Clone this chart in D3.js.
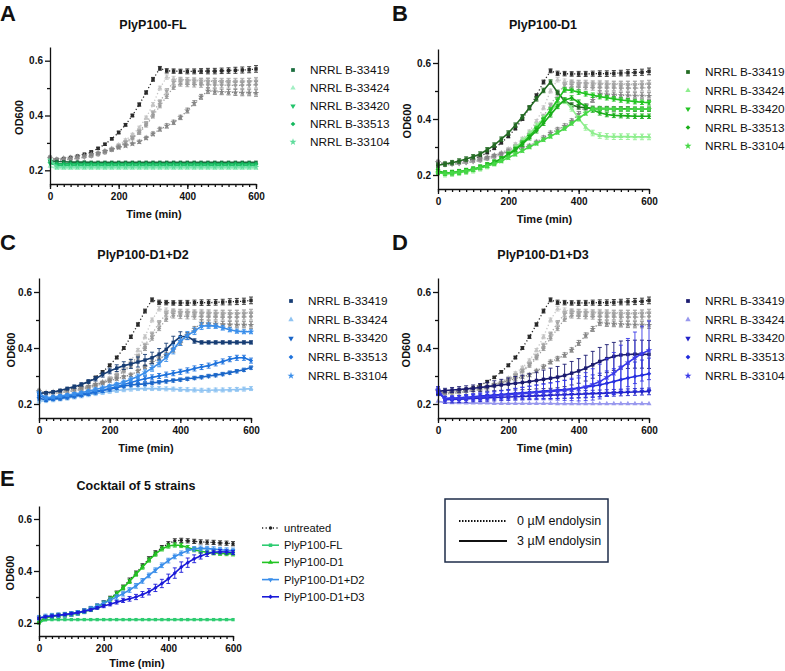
<!DOCTYPE html>
<html>
<head>
<meta charset="utf-8">
<script src="https://cdn.jsdelivr.net/npm/d3@7"></script>
<style>
body{margin:0;background:#fff;}
svg{font-family:Arial, "Liberation Sans", sans-serif;}
</style>
</head>
<body>
<div class="container"></div>
<script>
(function(){

// ---- data ----
var times = [0,20,40,60,80,100,120,140,160,180,200,220,240,260,280,300,320,340,360,380,400,420,440,460,480,500,520,540,560,580,600];
var strains = ["NRRL B-33419", "NRRL B-33424", "NRRL B-33420", "NRRL B-33513", "NRRL B-33104"];
var cocktailNames = ["untreated", "PlyP100-FL", "PlyP100-D1", "PlyP100-D1+D2", "PlyP100-D1+D3"];
var yTicks = [0.2, 0.4, 0.6];
var yMinorTicks = [0.3, 0.5];
var xTicks = [0, 200, 400, 600];

// untreated controls (0 uM), same in panels A-D
var untreated_33419 = [0.237,0.240,0.243,0.247,0.252,0.259,0.267,0.280,0.295,0.315,0.338,0.366,0.400,0.440,0.484,0.532,0.572,0.563,0.562,0.561,0.561,0.561,0.562,0.562,0.562,0.563,0.564,0.565,0.566,0.567,0.570];
var untreated_33424 = [0.250,0.238,0.240,0.243,0.246,0.250,0.255,0.262,0.270,0.280,0.293,0.310,0.330,0.355,0.392,0.440,0.500,0.540,0.535,0.532,0.530,0.530,0.528,0.528,0.527,0.526,0.526,0.525,0.525,0.526,0.527];
var untreated_33420 = [0.245,0.236,0.238,0.241,0.244,0.248,0.253,0.259,0.267,0.277,0.289,0.303,0.320,0.342,0.372,0.410,0.450,0.490,0.522,0.530,0.528,0.527,0.526,0.525,0.525,0.524,0.524,0.523,0.523,0.524,0.525];
var untreated_33513 = [0.248,0.236,0.238,0.240,0.243,0.247,0.251,0.257,0.264,0.273,0.285,0.299,0.316,0.337,0.364,0.398,0.435,0.470,0.503,0.515,0.514,0.513,0.512,0.512,0.511,0.511,0.510,0.510,0.510,0.511,0.512];
var untreated_33104 = [0.245,0.240,0.243,0.246,0.250,0.254,0.258,0.263,0.270,0.276,0.283,0.290,0.297,0.304,0.318,0.333,0.350,0.362,0.375,0.393,0.418,0.445,0.468,0.490,0.487,0.486,0.485,0.484,0.483,0.483,0.482];
var sd_untreated = [0.004,0.003,0.003,0.003,0.003,0.003,0.004,0.004,0.004,0.004,0.005,0.005,0.005,0.006,0.006,0.007,0.007,0.008,0.008,0.008,0.009,0.009,0.009,0.010,0.010,0.010,0.010,0.011,0.011,0.011,0.012];

// A: PlyP100-FL
var fl_33419 = [0.235,0.232,0.231,0.230,0.230,0.230,0.229,0.229,0.229,0.229,0.229,0.229,0.229,0.229,0.229,0.229,0.229,0.229,0.229,0.229,0.229,0.229,0.229,0.229,0.229,0.229,0.229,0.229,0.229,0.229,0.229];
var fl_33424 = [0.215,0.206,0.206,0.206,0.206,0.206,0.206,0.206,0.206,0.206,0.206,0.206,0.206,0.206,0.206,0.206,0.206,0.206,0.206,0.206,0.206,0.206,0.206,0.206,0.206,0.206,0.206,0.206,0.206,0.206,0.206];
var fl_33420 = [0.225,0.219,0.219,0.219,0.219,0.219,0.219,0.219,0.219,0.219,0.219,0.219,0.219,0.219,0.219,0.219,0.219,0.219,0.219,0.219,0.219,0.219,0.219,0.219,0.219,0.219,0.219,0.219,0.219,0.219,0.219];
var fl_33513 = [0.230,0.224,0.224,0.224,0.224,0.224,0.224,0.224,0.224,0.224,0.224,0.224,0.224,0.224,0.224,0.224,0.224,0.224,0.224,0.224,0.224,0.224,0.224,0.224,0.224,0.224,0.224,0.224,0.224,0.224,0.224];
var fl_33104 = [0.238,0.212,0.212,0.212,0.212,0.212,0.212,0.212,0.212,0.212,0.212,0.212,0.212,0.212,0.212,0.212,0.212,0.212,0.212,0.212,0.212,0.212,0.212,0.212,0.212,0.212,0.212,0.212,0.212,0.212,0.212];

// B: PlyP100-D1
var d1_33419 = [0.235,0.239,0.244,0.250,0.257,0.265,0.275,0.290,0.307,0.328,0.350,0.378,0.408,0.440,0.472,0.502,0.532,0.495,0.465,0.450,0.443,0.440,0.438,0.437,0.437,0.436,0.436,0.436,0.435,0.435,0.435];
var d1_33424 = [0.210,0.203,0.205,0.208,0.212,0.217,0.224,0.232,0.242,0.255,0.275,0.297,0.322,0.347,0.375,0.402,0.430,0.452,0.465,0.438,0.402,0.370,0.350,0.341,0.338,0.337,0.337,0.337,0.336,0.336,0.336];
var d1_33420 = [0.215,0.207,0.209,0.212,0.216,0.221,0.228,0.236,0.246,0.258,0.274,0.292,0.314,0.338,0.366,0.398,0.432,0.468,0.505,0.502,0.496,0.490,0.485,0.480,0.476,0.472,0.468,0.465,0.462,0.460,0.458];
var d1_33513 = [0.212,0.206,0.208,0.211,0.215,0.220,0.227,0.235,0.245,0.257,0.272,0.290,0.310,0.333,0.358,0.385,0.415,0.445,0.468,0.475,0.460,0.445,0.432,0.422,0.416,0.413,0.412,0.411,0.410,0.410,0.410];
var d1_33104 = [0.208,0.205,0.207,0.210,0.214,0.219,0.225,0.232,0.240,0.250,0.262,0.274,0.287,0.300,0.313,0.326,0.338,0.352,0.366,0.384,0.402,0.420,0.436,0.437,0.436,0.436,0.435,0.435,0.435,0.435,0.435];

// C: PlyP100-D1+D2
var d1d2_33419 = [0.238,0.240,0.243,0.248,0.255,0.262,0.270,0.280,0.290,0.305,0.318,0.328,0.337,0.343,0.350,0.357,0.365,0.378,0.395,0.420,0.440,0.442,0.425,0.420,0.420,0.420,0.420,0.420,0.420,0.420,0.420];
var d1d2_33424 = [0.210,0.212,0.215,0.218,0.221,0.225,0.229,0.233,0.237,0.241,0.245,0.248,0.251,0.253,0.255,0.255,0.255,0.255,0.254,0.253,0.252,0.251,0.250,0.249,0.249,0.250,0.250,0.251,0.252,0.253,0.255];
var d1d2_33420 = [0.220,0.215,0.218,0.220,0.224,0.228,0.232,0.237,0.242,0.248,0.253,0.258,0.264,0.268,0.270,0.272,0.275,0.278,0.281,0.284,0.287,0.290,0.293,0.296,0.300,0.303,0.307,0.312,0.317,0.322,0.330];
var d1d2_33513 = [0.230,0.220,0.222,0.225,0.228,0.232,0.236,0.240,0.245,0.250,0.255,0.262,0.270,0.277,0.284,0.290,0.295,0.300,0.305,0.310,0.315,0.320,0.327,0.332,0.337,0.345,0.352,0.360,0.365,0.365,0.355];
var d1d2_33104 = [0.240,0.222,0.225,0.228,0.232,0.236,0.240,0.246,0.252,0.258,0.264,0.270,0.278,0.288,0.298,0.312,0.328,0.345,0.366,0.395,0.425,0.445,0.460,0.478,0.480,0.478,0.472,0.465,0.460,0.458,0.458];
var sd_d1d2_33419 = [0.004,0.004,0.004,0.005,0.005,0.006,0.006,0.007,0.008,0.009,0.010,0.012,0.014,0.016,0.018,0.020,0.020,0.020,0.022,0.022,0.018,0.012,0.008,0.006,0.006,0.006,0.006,0.006,0.006,0.006,0.006];
var sd_d1d2_33104 = [0.006,0.004,0.004,0.004,0.004,0.005,0.005,0.005,0.006,0.006,0.006,0.007,0.007,0.008,0.009,0.010,0.011,0.012,0.014,0.016,0.016,0.014,0.012,0.012,0.010,0.008,0.008,0.007,0.007,0.007,0.007];

// D: PlyP100-D1+D3
var d1d3_33419 = [0.245,0.248,0.250,0.252,0.254,0.256,0.259,0.262,0.265,0.268,0.271,0.274,0.277,0.280,0.284,0.288,0.292,0.296,0.302,0.310,0.318,0.328,0.340,0.352,0.362,0.370,0.375,0.377,0.378,0.378,0.377];
var d1d3_33424 = [0.210,0.205,0.204,0.204,0.203,0.203,0.203,0.203,0.202,0.202,0.202,0.202,0.202,0.202,0.202,0.202,0.202,0.201,0.201,0.201,0.201,0.201,0.201,0.201,0.201,0.201,0.201,0.201,0.201,0.201,0.201];
var d1d3_33420 = [0.250,0.215,0.216,0.217,0.218,0.220,0.221,0.222,0.223,0.224,0.225,0.226,0.227,0.228,0.229,0.230,0.231,0.232,0.233,0.234,0.235,0.236,0.237,0.238,0.239,0.240,0.241,0.242,0.243,0.244,0.245];
var d1d3_33513 = [0.240,0.220,0.221,0.222,0.224,0.226,0.228,0.230,0.232,0.234,0.236,0.238,0.240,0.242,0.244,0.246,0.248,0.250,0.252,0.254,0.257,0.260,0.264,0.268,0.274,0.280,0.287,0.293,0.298,0.303,0.308];
var d1d3_33104 = [0.250,0.218,0.219,0.220,0.222,0.223,0.225,0.227,0.229,0.231,0.233,0.235,0.237,0.239,0.241,0.243,0.245,0.247,0.249,0.252,0.256,0.262,0.270,0.280,0.295,0.310,0.330,0.348,0.365,0.380,0.392];
var sd_d1d3_33419 = [0.008,0.008,0.009,0.010,0.011,0.012,0.014,0.016,0.018,0.020,0.022,0.024,0.026,0.028,0.030,0.033,0.036,0.038,0.040,0.042,0.044,0.046,0.048,0.050,0.050,0.050,0.050,0.050,0.050,0.050,0.050];
var sd_d1d3_33513 = [0.010,0.008,0.008,0.009,0.010,0.011,0.012,0.013,0.014,0.015,0.016,0.018,0.020,0.022,0.024,0.026,0.028,0.030,0.032,0.034,0.036,0.038,0.040,0.042,0.044,0.046,0.048,0.050,0.052,0.054,0.056];
var sd_d1d3_33104 = [0.010,0.008,0.008,0.009,0.010,0.011,0.012,0.013,0.014,0.016,0.018,0.020,0.022,0.024,0.026,0.028,0.030,0.033,0.036,0.040,0.045,0.050,0.056,0.062,0.068,0.074,0.080,0.086,0.092,0.098,0.105];

// E: cocktail of 5 strains
var mix_untreated = [0.215,0.222,0.226,0.229,0.232,0.235,0.240,0.247,0.255,0.265,0.278,0.295,0.315,0.338,0.365,0.392,0.420,0.447,0.470,0.490,0.505,0.516,0.518,0.516,0.514,0.512,0.511,0.510,0.508,0.507,0.505];
var mix_fl = [0.200,0.212,0.213,0.213,0.213,0.213,0.213,0.213,0.213,0.213,0.213,0.213,0.213,0.213,0.213,0.213,0.213,0.213,0.213,0.213,0.213,0.213,0.213,0.213,0.213,0.213,0.213,0.213,0.213,0.213,0.213];
var mix_d1 = [0.205,0.220,0.225,0.228,0.231,0.234,0.238,0.244,0.252,0.262,0.275,0.292,0.312,0.335,0.360,0.388,0.415,0.442,0.465,0.485,0.496,0.500,0.498,0.490,0.482,0.476,0.472,0.470,0.468,0.467,0.466];
var mix_d1d2 = [0.220,0.225,0.228,0.230,0.232,0.235,0.239,0.246,0.255,0.265,0.276,0.288,0.300,0.313,0.327,0.343,0.362,0.383,0.403,0.422,0.440,0.456,0.468,0.478,0.485,0.487,0.486,0.484,0.482,0.480,0.479];
var mix_d1d3 = [0.218,0.224,0.227,0.230,0.233,0.236,0.240,0.245,0.251,0.258,0.265,0.272,0.280,0.287,0.293,0.300,0.310,0.320,0.335,0.352,0.370,0.392,0.415,0.432,0.447,0.458,0.466,0.472,0.474,0.473,0.471];
var sd_mix_d1d3 = [0.004,0.004,0.004,0.004,0.004,0.004,0.004,0.005,0.005,0.005,0.006,0.006,0.007,0.008,0.009,0.010,0.011,0.012,0.014,0.016,0.018,0.020,0.020,0.018,0.015,0.012,0.010,0.008,0.008,0.008,0.008];

// ---- styles ----
var shapes = ["square", "triangle", "triangleDown", "diamond", "star"];
var greyColors = ["#2a2a2a", "#c4c4c4", "#a6a6a6", "#9c9c9c", "#858585"];
var flColors = ["#1b6e3f", "#a3efc4", "#22c46b", "#14b85e", "#5fdc9c"];
var d1Colors = ["#236b23", "#8eee8e", "#22c422", "#1aae1a", "#46d846"];
var d1d2Colors = ["#173d74", "#90c4f2", "#1a66c8", "#1e72dc", "#3a8eea"];
var d1d3Colors = ["#1b1b70", "#9898ee", "#2222c8", "#1f2adc", "#3a3ae8"];
var mixColors = ["#222222", "#2ecc71", "#22c422", "#3a8eea", "#1a1ad8"];

var untreatedSeries = [
  {v: untreated_33419, sd: sd_untreated},
  {v: untreated_33424, sd: sd_untreated},
  {v: untreated_33420, sd: sd_untreated},
  {v: untreated_33513, sd: sd_untreated},
  {v: untreated_33104, sd: sd_untreated}
];

var panels = [
  {letter: "A", lx: 0, ly: 21, title: "PlyP100-FL", tx: 153, ty: 29,
   xr: [50, 256], yr: [184, 47], odx: 19,
   series: [{v: fl_33419, sd: 0.003}, {v: fl_33424, sd: 0.003}, {v: fl_33420, sd: 0.003}, {v: fl_33513, sd: 0.003}, {v: fl_33104, sd: 0.003}],
   colors: flColors, leg: {x: 293, y: 70, dy: 18}},
  {letter: "B", lx: 392, ly: 21, title: "PlyP100-D1", tx: 543, ty: 29,
   xr: [438, 649], yr: [189, 49], odx: 407,
   series: [{v: d1_33419, sd: 0.008}, {v: d1_33424, sd: 0.010}, {v: d1_33420, sd: 0.008}, {v: d1_33513, sd: 0.008}, {v: d1_33104, sd: 0.006}],
   colors: d1Colors, leg: {x: 688, y: 72, dy: 18.5}},
  {letter: "C", lx: 0, ly: 250, title: "PlyP100-D1+D2", tx: 143, ty: 259,
   xr: [39, 251], yr: [418, 278], odx: 11,
   series: [{v: d1d2_33419, sd: sd_d1d2_33419}, {v: d1d2_33424, sd: 0.007}, {v: d1d2_33420, sd: 0.006}, {v: d1d2_33513, sd: 0.009}, {v: d1d2_33104, sd: sd_d1d2_33104}],
   colors: d1d2Colors, leg: {x: 291, y: 301, dy: 18.7}},
  {letter: "D", lx: 392, ly: 250, title: "PlyP100-D1+D3", tx: 543, ty: 259,
   xr: [438, 649], yr: [418, 278], odx: 406,
   series: [{v: d1d3_33419, sd: sd_d1d3_33419}, {v: d1d3_33424, sd: 0.003}, {v: d1d3_33420, sd: 0.012}, {v: d1d3_33513, sd: sd_d1d3_33513}, {v: d1d3_33104, sd: sd_d1d3_33104}],
   colors: d1d3Colors, leg: {x: 688, y: 301, dy: 18.7}}
];

var svg = d3.select(".container")
  .append("svg")
  .attr("width", 785)
  .attr("height", 671);

svg.append("rect")
  .attr("width", 785)
  .attr("height", 671)
  .attr("fill", "#fff");

function symbolPath(shape, size){
  if (shape == "square") return d3.symbol(d3.symbolSquare, size)();
  if (shape == "triangle" || shape == "triangleDown") return d3.symbol(d3.symbolTriangle, size * 0.9)();
  if (shape == "diamond") return d3.symbol(d3.symbolSquare, size * 0.8)();
  if (shape == "star") return d3.symbol(d3.symbolStar, size * 1.1)();
  return d3.symbol(d3.symbolCircle, size)();
}
function symbolRot(shape){
  if (shape == "triangleDown") return " rotate(180)";
  if (shape == "diamond") return " rotate(45)";
  return "";
}

function sdAt(sd, i){
  return (typeof sd == "number") ? sd : sd[i];
}

function drawAxes(g, x, y){
  var xAxis = g.append("g")
    .attr("transform", "translate(0," + y.range()[0] + ")")
    .call(d3.axisBottom(x).tickValues(xTicks).tickSize(5).tickSizeOuter(0).tickPadding(4).tickFormat(d3.format("d")));
  var xMinor = g.append("g")
    .attr("transform", "translate(0," + y.range()[0] + ")")
    .call(d3.axisBottom(x).tickValues(times).tickSize(3).tickSizeOuter(0).tickFormat(""));
  xMinor.select(".domain").remove();

  var yAxis = g.append("g")
    .attr("transform", "translate(" + x.range()[0] + ",0)")
    .call(d3.axisLeft(y).tickValues(yTicks).tickSize(5).tickSizeOuter(0).tickPadding(2).tickFormat(d3.format(".1f")));
  var yMinor = g.append("g")
    .attr("transform", "translate(" + x.range()[0] + ",0)")
    .call(d3.axisLeft(y).tickValues(yMinorTicks).tickSize(3).tickSizeOuter(0).tickFormat(""));
  yMinor.select(".domain").remove();

  g.selectAll(".domain, .tick line")
    .attr("stroke", "#111")
    .attr("stroke-width", 1.3);
  g.selectAll(".tick text")
    .attr("fill", "#111")
    .style("font-size", "10px")
    .style("font-weight", "bold")
    .style("font-family", "Arial, 'Liberation Sans', sans-serif");
}

function drawSeries(g, x, y, s, color, shape, dotted, msize){
  var pts = times.map(function(t, i){ return {t: t, v: s.v[i], e: sdAt(s.sd, i)}; });

  var bars = g.append("g");
  pts.forEach(function(p){
    var y1 = y(p.v - p.e), y2 = y(p.v + p.e);
    if (Math.abs(y1 - y2) < 2) return;
    bars.append("line").attr("x1", x(p.t)).attr("x2", x(p.t)).attr("y1", y1).attr("y2", y2)
      .attr("stroke", color).attr("stroke-width", 0.9);
    [y1, y2].forEach(function(yy){
      bars.append("line").attr("x1", x(p.t) - 2).attr("x2", x(p.t) + 2).attr("y1", yy).attr("y2", yy)
        .attr("stroke", color).attr("stroke-width", 0.9);
    });
  });

  var line = d3.line()
    .x(function(d){ return x(d.t); })
    .y(function(d){ return y(d.v); });

  g.append("path")
    .datum(pts)
    .attr("d", line)
    .attr("fill", "none")
    .attr("stroke", color)
    .attr("stroke-width", dotted ? 1.3 : 1.6)
    .attr("stroke-dasharray", dotted ? "1.2,2.4" : null);

  g.selectAll(null)
    .data(pts)
    .enter()
    .append("path")
    .attr("d", symbolPath(shape, msize))
    .attr("transform", function(d){ return "translate(" + x(d.t) + "," + y(d.v) + ")" + symbolRot(shape); })
    .attr("fill", color);
}

function textAt(x, y, str, size, weight, anchor){
  return svg.append("text")
    .attr("x", x).attr("y", y)
    .attr("text-anchor", anchor || "start")
    .style("font-size", size + "px")
    .style("font-weight", weight || "normal")
    .attr("fill", "#111")
    .text(str);
}

function drawPanel(p){
  var x = d3.scaleLinear().domain([0, 600]).range(p.xr);
  var y = d3.scaleLinear().domain([0.15, 0.65]).range(p.yr);
  var g = svg.append("g");

  // untreated controls behind, treated in front
  untreatedSeries.forEach(function(s, i){
    drawSeries(g, x, y, s, greyColors[i], shapes[i], true, 12);
  });
  p.series.forEach(function(s, i){
    drawSeries(g, x, y, s, p.colors[i], shapes[i], false, 12);
  });

  drawAxes(g, x, y);

  textAt(p.lx, p.ly, p.letter, 22, "bold");
  textAt(p.tx, p.ty, p.title, 12.5, "bold", "middle");
  textAt((p.xr[0] + p.xr[1]) / 2 + 1, p.yr[0] + 34, "Time (min)", 11, "bold", "middle");
  textAt(0, 0, "OD600", 11, "bold", "middle")
    .attr("transform", "translate(" + (p.odx + 4) + "," + ((p.yr[0] + p.yr[1]) / 2 + 2) + ") rotate(-90)");

  // legend
  strains.forEach(function(name, i){
    var ly = p.leg.y + i * p.leg.dy;
    svg.append("path")
      .attr("d", symbolPath(shapes[i], 14))
      .attr("transform", "translate(" + p.leg.x + "," + ly + ")" + symbolRot(shapes[i]))
      .attr("fill", p.colors[i]);
    textAt(p.leg.x + 17, ly + 4, name, 11.8);
  });
}

panels.forEach(drawPanel);

// ---- panel E ----
(function(){
  var x = d3.scaleLinear().domain([0, 600]).range([39, 233]);
  var y = d3.scaleLinear().domain([0.15, 0.65]).range([636, 506]);
  var g = svg.append("g");
  var mixSeries = [
    {v: mix_untreated, sd: 0.008},
    {v: mix_fl, sd: 0.003},
    {v: mix_d1, sd: 0.008},
    {v: mix_d1d2, sd: 0.009},
    {v: mix_d1d3, sd: sd_mix_d1d3}
  ];
  var mixShapes = ["circle", "square", "triangle", "triangleDown", "diamond"];

  mixSeries.forEach(function(s, i){
    drawSeries(g, x, y, s, mixColors[i], mixShapes[i], i == 0, i == 0 ? 9 : 11);
  });
  drawAxes(g, x, y);

  textAt(0, 486, "E", 22, "bold");
  textAt(136, 490, "Cocktail of 5 strains", 12.5, "bold", "middle");
  textAt(137, 667, "Time (min)", 11, "bold", "middle");
  textAt(0, 0, "OD600", 11, "bold", "middle")
    .attr("transform", "translate(14,573) rotate(-90)");

  cocktailNames.forEach(function(name, i){
    var ly = 528 + i * 17.2;
    svg.append("line")
      .attr("x1", 262).attr("x2", 279).attr("y1", ly).attr("y2", ly)
      .attr("stroke", mixColors[i])
      .attr("stroke-width", i == 0 ? 1.3 : 1.6)
      .attr("stroke-dasharray", i == 0 ? "1.2,2.4" : null);
    svg.append("path")
      .attr("d", symbolPath(mixShapes[i], i == 0 ? 9 : 12))
      .attr("transform", "translate(270.5," + ly + ")" + symbolRot(mixShapes[i]))
      .attr("fill", mixColors[i]);
    textAt(284, ly + 4, name, 11.2);
  });
})();

// ---- endolysin dose legend ----
svg.append("rect")
  .attr("x", 445).attr("y", 499).attr("width", 163).attr("height", 63)
  .attr("fill", "none").attr("stroke", "#1e2d4a").attr("stroke-width", 1.5);
svg.append("line")
  .attr("x1", 459).attr("x2", 507).attr("y1", 521).attr("y2", 521)
  .attr("stroke", "#111").attr("stroke-width", 2).attr("stroke-dasharray", "1.5,1.5");
svg.append("line")
  .attr("x1", 459).attr("x2", 507).attr("y1", 541).attr("y2", 541)
  .attr("stroke", "#111").attr("stroke-width", 2.2);
textAt(517, 525, "0 \u00b5M endolysin", 12.5);
textAt(517, 545, "3 \u00b5M endolysin", 12.5);

})();
</script>
</body>
</html>
